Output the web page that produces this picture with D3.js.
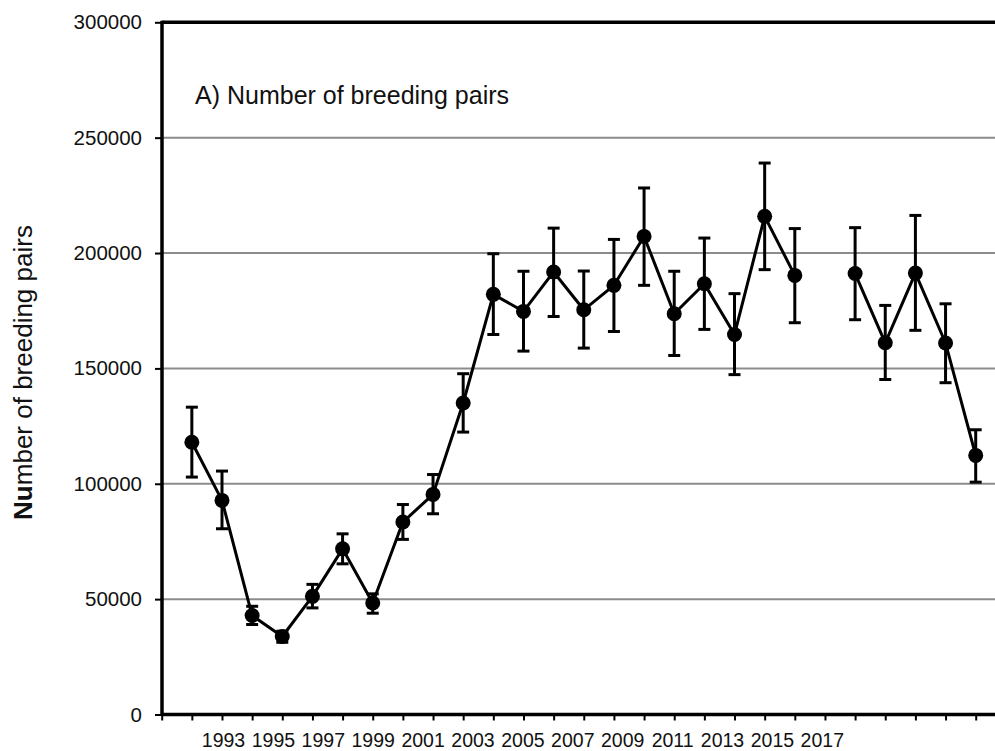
<!DOCTYPE html>
<html>
<head>
<meta charset="utf-8">
<script src="https://cdn.jsdelivr.net/npm/d3@7"></script>
<style>
  body { margin: 0; background: #fff; }
  svg { display: block; font-family: Arial, "Liberation Sans", sans-serif; }
</style>
</head>
<body>
<svg width="995" height="751"></svg>
<script>
// breeding pairs per year, with lower / upper bounds of the error bars
var years = [1992, 1993, 1994, 1995, 1996, 1997, 1998, 1999, 2000, 2001, 2002, 2003, 2004, 2005,
             2006, 2007, 2008, 2009, 2010, 2011, 2012, 2013, 2014, 2015, 2016, 2017, 2018];
var pairs = [118000, 92800, 42900, 33800, 51200, 71800, 48300, 83400, 95400, 135000, 182100, 174700, 191800, 175400,
             186000, 207200, 173700, 186700, 164700, 215900, 190300, null, 191100, 161100, 191300, 161000, 112300];
var lower = [102900, 80500, 39000, 31300, 46200, 65300, 43900, 75900, 87000, 122400, 164700, 157500, 172500, 158800,
             166000, 186000, 155600, 166900, 147300, 192800, 169800, null, 171100, 145200, 166500, 143800, 100700];
var upper = [133200, 105500, 46900, 36100, 56400, 78300, 52300, 91000, 104000, 147700, 199700, 192100, 210800, 192200,
             205900, 228200, 192100, 206500, 182400, 239000, 210600, null, 211000, 177300, 216300, 178000, 123400];
var yTicks = [0, 50000, 100000, 150000, 200000, 250000, 300000];
var xLabels = ["1993", "1995", "1997", "1999", "2001", "2003", "2005", "2007", "2009", "2011", "2013", "2015", "2017"];

var svg = d3.select("svg"),
    width = +svg.attr("width");

// note: "top" is taken by window.top, so plotTop etc.
var plotLeft = 162, plotRight = width, plotTop = 22.3, plotBottom = 714.5;

var x = d3.scaleLinear().domain([1991, 2018]).range([161.7, 975.7]);
var y = d3.scaleLinear().domain([0, 300000]).range([plotBottom, plotTop]);
// the category labels in the original sit packed together, not under their ticks
var xl = d3.scalePoint().domain(xLabels).range([223.5, 822.3]);

var data = years.map(function(yr, i) {
    return {year: yr, v: pairs[i], lo: lower[i], hi: upper[i]};
});

////////////////////////////// GRID + AXES //////////////////////////////

svg.append("g").selectAll("line")
    .data(yTicks.filter(function(d) { return d > 0 && d < 300000; }))
    .enter().append("line")
    .attr("x1", plotLeft).attr("x2", plotRight)
    .attr("y1", function(d) { return y(d); })
    .attr("y2", function(d) { return y(d); })
    .attr("stroke", "#8c8c8c")
    .attr("stroke-width", 2);

// top border at 300000
svg.append("line")
    .attr("x1", plotLeft).attr("x2", plotRight)
    .attr("y1", y(300000)).attr("y2", y(300000))
    .attr("stroke", "#000").attr("stroke-width", 3.5);

var yAxis = svg.append("g")
    .attr("transform", "translate(" + plotLeft + ",0)")
    .call(d3.axisLeft(y).tickValues(yTicks).tickSize(7).tickPadding(13).tickFormat(d3.format("d")));
yAxis.select(".domain").remove();
yAxis.selectAll(".tick line").attr("stroke", "#000").attr("stroke-width", 2);
yAxis.selectAll(".tick text").attr("font-size", "20.5px").attr("fill", "#111")
    .attr("font-family", "Arial, 'Liberation Sans', sans-serif");

svg.append("line")
    .attr("x1", plotLeft).attr("x2", plotLeft)
    .attr("y1", plotTop - 1.5).attr("y2", plotBottom + 1.5)
    .attr("stroke", "#000").attr("stroke-width", 3.5);

var xAxis = svg.append("g")
    .attr("transform", "translate(0," + plotBottom + ")")
    .call(d3.axisBottom(x).tickValues(d3.range(1991, 2019)).tickSize(6).tickFormat(""));
xAxis.select(".domain").remove();
xAxis.selectAll(".tick line").attr("stroke", "#000").attr("stroke-width", 2);

svg.append("line")
    .attr("x1", plotLeft).attr("x2", plotRight)
    .attr("y1", plotBottom).attr("y2", plotBottom)
    .attr("stroke", "#000").attr("stroke-width", 3.5);

svg.append("g").selectAll("text")
    .data(xLabels).enter().append("text")
    .attr("x", function(d) { return xl(d); })
    .attr("y", 746.5)
    .attr("text-anchor", "middle")
    .attr("font-size", "19.5px")
    .attr("fill", "#111")
    .text(function(d) { return d; });

////////////////////////////// TITLES //////////////////////////////

var yTitle = svg.append("text")
    .attr("transform", "translate(32,372.5) rotate(-90)")
    .attr("text-anchor", "middle")
    .attr("font-size", "26px")
    .attr("fill", "#111");
yTitle.append("tspan").attr("font-weight", "bold").text("Nu");
yTitle.append("tspan").text("mber of breeding pairs");

svg.append("text")
    .attr("x", 195).attr("y", 103.5)
    .attr("font-size", "25px")
    .attr("fill", "#111")
    .text("A) Number of breeding pairs");

////////////////////////////// SERIES //////////////////////////////

var valid = data.filter(function(d) { return d.v != null; });

var bars = svg.append("g").attr("stroke", "#000").attr("stroke-width", 3);
valid.forEach(function(d) {
    var cx = x(d.year);
    bars.append("line").attr("x1", cx).attr("x2", cx).attr("y1", y(d.hi)).attr("y2", y(d.lo));
    bars.append("line").attr("x1", cx - 6).attr("x2", cx + 6).attr("y1", y(d.hi)).attr("y2", y(d.hi));
    bars.append("line").attr("x1", cx - 6).attr("x2", cx + 6).attr("y1", y(d.lo)).attr("y2", y(d.lo));
});

var line = d3.line()
    .defined(function(d) { return d.v != null; })
    .x(function(d) { return x(d.year); })
    .y(function(d) { return y(d.v); });

svg.append("path")
    .datum(data)
    .attr("fill", "none")
    .attr("stroke", "#000")
    .attr("stroke-width", 3)
    .attr("stroke-linejoin", "round")
    .attr("d", line);

svg.append("g").selectAll("circle")
    .data(valid).enter().append("circle")
    .attr("cx", function(d) { return x(d.year); })
    .attr("cy", function(d) { return y(d.v); })
    .attr("r", 7.5)
    .attr("fill", "#000");
</script>
</body>
</html>
